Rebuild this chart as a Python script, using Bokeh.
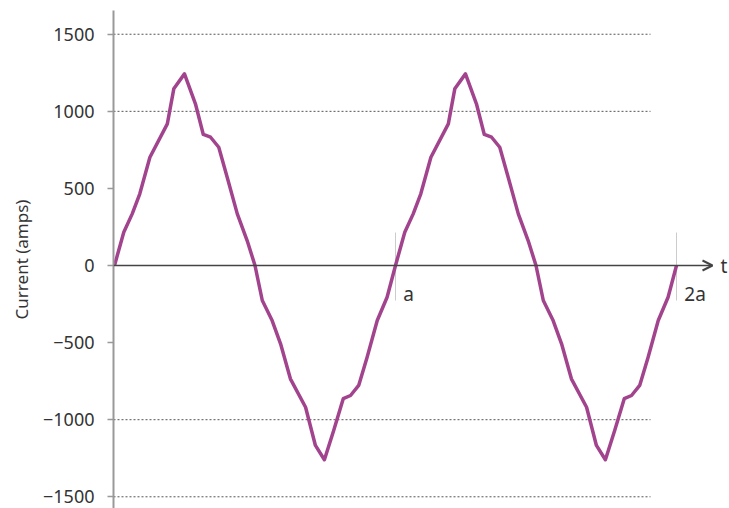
from bokeh.plotting import figure
from bokeh.models import Range1d, FixedTicker, Arrow, OpenHead
from bokeh.core.properties import value
from bokeh.embed import file_html
from bokeh.resources import INLINE

# time in units of "a" (one period)
t = [0.000, 0.033, 0.063, 0.090, 0.126, 0.188, 0.211, 0.249, 0.288, 0.316,
     0.342, 0.371, 0.401, 0.437, 0.472, 0.500, 0.526, 0.561, 0.591, 0.626,
     0.680, 0.715, 0.747, 0.780, 0.814, 0.840, 0.869, 0.899, 0.935, 0.970,
     1.000, 1.033, 1.063, 1.090, 1.126, 1.188, 1.211, 1.249, 1.288, 1.316,
     1.342, 1.371, 1.401, 1.437, 1.472, 1.500, 1.526, 1.561, 1.591, 1.626,
     1.680, 1.715, 1.747, 1.780, 1.814, 1.840, 1.869, 1.899, 1.935, 1.970,
     2.000]
current = [0, 216, 335, 465, 702, 919, 1146, 1243, 1049, 850,
           832, 767, 573, 335, 162, 0, -227, -357, -508, -735,
           -919, -1167, -1260, -1070, -864, -843, -778, -595, -357, -206,
           0, 216, 335, 465, 702, 919, 1146, 1243, 1049, 850,
           832, 767, 573, 335, 162, 0, -227, -357, -508, -735,
           -919, -1167, -1260, -1070, -864, -843, -778, -595, -357, -206,
           0]
y_ticks = [-1500, -1000, -500, 0, 500, 1000, 1500]
grid_levels = [-1500, -1000, 1000, 1500]
marker_t = [1, 2]
marker_labels = ["a", "2a"]

FONT = "Noto Sans"
TXT = "#333333"

x0 = -1 / 281
p = figure(width=729, height=508, output_backend="svg", toolbar_location=None,
           x_range=Range1d(x0, 615 / 281), y_range=Range1d(-1576, 1654),
           x_axis_location=None, min_border_left=113, min_border_right=0,
           min_border_top=10, min_border_bottom=0)
p.outline_line_color = None
p.xgrid.visible = False
p.ygrid.visible = False

ax = p.yaxis[0]
ax.ticker = FixedTicker(ticks=y_ticks)
ax.major_label_overrides = {v: (("\u2212" + str(-v)) if v < 0 else str(v)) for v in y_ticks}
ax.axis_line_color = "#999999"
ax.axis_line_width = 2
ax.major_tick_line_color = "#999999"
ax.major_tick_line_width = 1.5
ax.major_tick_in = 0
ax.major_tick_out = 6
ax.minor_tick_line_color = None
ax.major_label_standoff = 13
ax.major_label_text_font = FONT
ax.major_label_text_font_size = "18px"
ax.major_label_text_color = TXT
ax.axis_label = "Current (amps)"
ax.axis_label_text_font = FONT
ax.axis_label_text_font_size = "17px"
ax.axis_label_text_font_style = "normal"
ax.axis_label_text_color = TXT
ax.axis_label_standoff = 7

# dotted grid lines
gx1 = 536 / 281
p.segment(x0=[x0] * len(grid_levels), y0=grid_levels, x1=[gx1] * len(grid_levels),
          y1=grid_levels, line_color="#555555", line_width=1, line_dash="2 2")

# period markers
p.segment(x0=marker_t, y0=[214] * 2, x1=marker_t, y1=[-227] * 2,
          line_color="#cccccc", line_width=1)
p.text(x=[m + 0.028 for m in marker_t], y=[-185] * 2, text=marker_labels,
       text_font=value(FONT), text_font_size="19px", text_color=TXT,
       text_baseline="middle", text_align="left")

# time axis with arrow
p.add_layout(Arrow(end=OpenHead(size=10, line_width=2, line_color="#444444"),
                   x_start=x0, y_start=0, x_end=598 / 281, y_end=0,
                   line_color="#444444", line_width=1.5))
p.text(x=[606 / 281], y=[0], text=["t"], text_font=value(FONT),
       text_font_size="19px", text_color=TXT, text_baseline="middle")

p.line(t, current, line_color="#A2438D", line_width=3.5, line_join="round")

open("out.html", "w").write(file_html(p, INLINE))
